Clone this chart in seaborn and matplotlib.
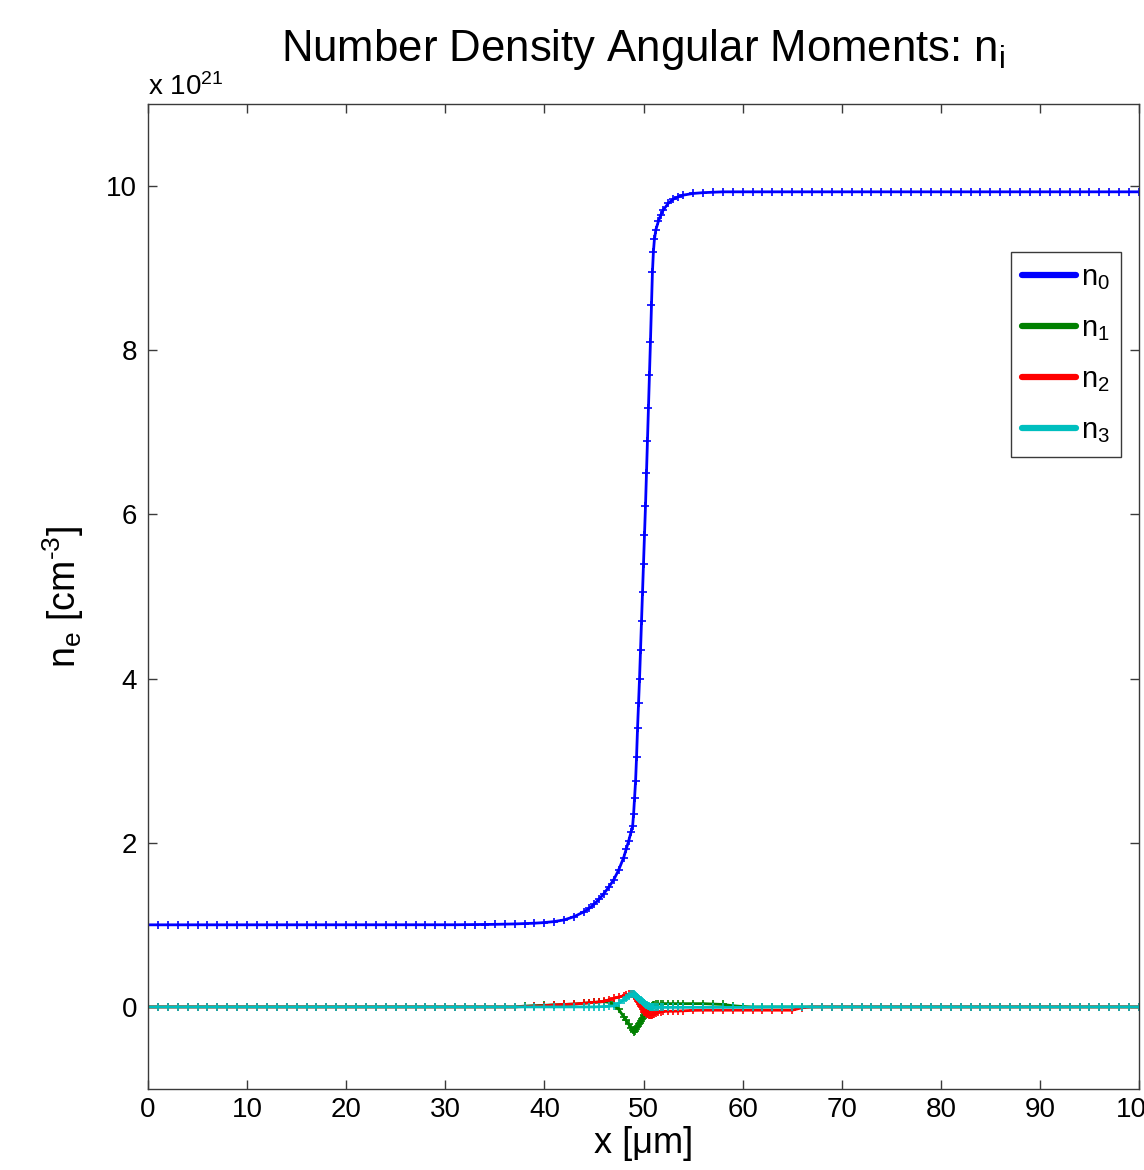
import numpy as np
import pandas as pd
import matplotlib
matplotlib.use("Agg")
import matplotlib.pyplot as plt
import seaborn as sns
from matplotlib.lines import Line2D

# ---------------- data (densities in units of 1e21 cm^-3) ----------------
x_um = [0, 1, 2, 3, 4, 5, 6, 7, 8, 9,
        10, 11, 12, 13, 14, 15, 16, 17, 18, 19,
        20, 21, 22, 23, 24, 25, 26, 27, 28, 29,
        30, 31, 32, 33, 34, 35, 36, 37, 38,
        39, 40, 41, 42, 43, 44,
        44.5, 45, 45.5, 46, 46.5, 47, 47.5, 48,
        48.25, 48.5, 48.75,
        48.9, 49.0, 49.1, 49.2, 49.3, 49.4, 49.5, 49.6, 49.7, 49.8, 49.9, 50.0,
        50.1, 50.2, 50.3, 50.4, 50.5, 50.6, 50.7, 50.8, 50.9, 51.0, 51.1,
        51.25, 51.5, 51.75, 52,
        52.5, 53, 53.5, 54,
        55, 56, 57, 58, 59, 60, 61, 62, 63, 64,
        65, 66, 67, 68, 69, 70, 71, 72, 73, 74,
        75, 76, 77, 78, 79, 80, 81, 82, 83, 84,
        85, 86, 87, 88, 89, 90, 91, 92, 93, 94,
        95, 96, 97, 98, 99, 100]

n0 = [1.0, 1.0, 1.0, 1.0, 1.0, 1.0, 1.0, 1.0, 1.0, 1.0,
      1.0, 1.0, 1.0, 1.0, 1.0, 1.0, 1.0, 1.0, 1.0, 1.0,
      1.0, 1.0, 1.0, 1.0, 1.0, 1.0, 1.0, 1.0, 1.0, 1.0,
      1.0, 1.001, 1.002, 1.003, 1.004, 1.006, 1.008, 1.011, 1.015,
      1.02, 1.028, 1.04, 1.06, 1.10, 1.16,
      1.20, 1.25, 1.31, 1.38, 1.46, 1.55, 1.67, 1.82,
      1.92, 2.02, 2.13,
      2.20, 2.35, 2.55, 2.75, 3.05, 3.40, 3.70, 4.00, 4.35, 4.70, 5.05, 5.40,
      5.75, 6.10, 6.50, 6.90, 7.30, 7.70, 8.10, 8.55, 8.95, 9.20, 9.35,
      9.47, 9.57, 9.65, 9.71,
      9.79, 9.84, 9.87, 9.89,
      9.91, 9.92, 9.925, 9.93, 9.93, 9.93, 9.93, 9.93, 9.93, 9.93,
      9.93, 9.93, 9.93, 9.93, 9.93, 9.93, 9.93, 9.93, 9.93, 9.93,
      9.93, 9.93, 9.93, 9.93, 9.93, 9.93, 9.93, 9.93, 9.93, 9.93,
      9.93, 9.93, 9.93, 9.93, 9.93, 9.93, 9.93, 9.93, 9.93, 9.93,
      9.93, 9.93, 9.93, 9.93, 9.93, 9.93]

n1 = [0, 0, 0, 0, 0, 0, 0, 0, 0, 0,
      0, 0, 0, 0, 0, 0, 0, 0, 0, 0,
      0, 0, 0, 0, 0, 0, 0, 0, 0, 0,
      0, 0, 0, 0, 0, 0, 0, 0, 0.01,
      0.015, 0.02, 0.025, 0.03, 0.035, 0.045,
      0.05, 0.055, 0.06, 0.065, 0.055, 0.03, -0.03, -0.12,
      -0.165, -0.21, -0.255,
      -0.285, -0.31, -0.29, -0.27, -0.25, -0.23, -0.21, -0.19, -0.17, -0.15, -0.13, -0.11,
      -0.095, -0.08, -0.065, -0.05, -0.035, -0.02, -0.005, 0.005, 0.015, 0.02, 0.025,
      0.03, 0.035, 0.035, 0.04,
      0.04, 0.04, 0.04, 0.04,
      0.04, 0.04, 0.035, 0.03, 0.015, 0.005, 0, 0, 0, 0,
      0, 0, 0, 0, 0, 0, 0, 0, 0, 0,
      0, 0, 0, 0, 0, 0, 0, 0, 0, 0,
      0, 0, 0, 0, 0, 0, 0, 0, 0, 0,
      0, 0, 0, 0, 0, 0]

n2 = [0, 0, 0, 0, 0, 0, 0, 0, 0, 0,
      0, 0, 0, 0, 0, 0, 0, 0, 0, 0,
      0, 0, 0, 0, 0, 0, 0, 0, 0, 0,
      0, 0, 0, 0, 0, 0, 0, 0, 0.005,
      0.01, 0.015, 0.025, 0.03, 0.035, 0.045,
      0.05, 0.055, 0.06, 0.07, 0.085, 0.105, 0.12, 0.135,
      0.145, 0.152, 0.158,
      0.16, 0.15, 0.133, 0.115, 0.095, 0.075, 0.055, 0.035, 0.015, -0.005, -0.025, -0.042,
      -0.057, -0.068, -0.078, -0.085, -0.09, -0.093, -0.095, -0.095, -0.093, -0.09, -0.085,
      -0.075, -0.065, -0.058, -0.055,
      -0.053, -0.053, -0.05, -0.047,
      -0.042, -0.04, -0.04, -0.04, -0.04, -0.04, -0.04, -0.04, -0.04, -0.04,
      -0.04, -0.01, 0, 0, 0, 0, 0, 0, 0, 0,
      0, 0, 0, 0, 0, 0, 0, 0, 0, 0,
      0, 0, 0, 0, 0, 0, 0, 0, 0, 0,
      0, 0, 0, 0, 0, 0]

n3 = [0, 0, 0, 0, 0, 0, 0, 0, 0, 0,
      0, 0, 0, 0, 0, 0, 0, 0, 0, 0,
      0, 0, 0, 0, 0, 0, 0, 0, 0, 0,
      0, 0, 0, 0, 0, 0, 0, 0, 0,
      0, 0, 0, 0, 0, 0,
      0, 0, 0.002, 0.005, 0.008, 0.012, 0.045, 0.085,
      0.107, 0.13, 0.152,
      0.16, 0.153, 0.143, 0.133, 0.122, 0.111, 0.1, 0.09, 0.08, 0.07, 0.06, 0.05,
      0.042, 0.034, 0.027, 0.02, 0.014, 0.008, 0.003, 0.0, -0.002, -0.004, -0.005,
      -0.006, -0.006, -0.006, -0.006,
      -0.006, -0.006, -0.006, -0.006,
      -0.005, -0.005, -0.005, -0.005, -0.005, -0.005, -0.003, -0.002, 0, 0,
      0, 0, 0, 0, 0, 0, 0, 0, 0, 0,
      0, 0, 0, 0, 0, 0, 0, 0, 0, 0,
      0, 0, 0, 0, 0, 0, 0, 0, 0, 0,
      0, 0, 0, 0, 0, 0]

labels = ["n0", "n1", "n2", "n3"]
legend_labels = [r"n$_0$", r"n$_1$", r"n$_2$", r"n$_3$"]
colors = ["#0000FF", "#008000", "#FF0000", "#00BFBF"]

x_ticks = [0, 10, 20, 30, 40, 50, 60, 70, 80, 90, 100]
y_ticks = [0, 2, 4, 6, 8, 10]

# ---------------- build long-form table ----------------
frames = []
for lab, vals in zip(labels, [n0, n1, n2, n3]):
    frames.append(pd.DataFrame({"x": x_um, "n": vals, "moment": lab}))
df = pd.concat(frames, ignore_index=True)

# ---------------- style ----------------
sns.set_theme(style="ticks")
plt.rcParams["font.family"] = ["Liberation Sans", "DejaVu Sans"]
plt.rcParams["mathtext.fontset"] = "custom"
plt.rcParams["mathtext.rm"] = "Liberation Sans"
plt.rcParams["mathtext.it"] = "Liberation Sans"
plt.rcParams["mathtext.default"] = "regular"
plt.rcParams["text.color"] = "black"
plt.rcParams["axes.labelcolor"] = "black"
plt.rcParams["axes.titlecolor"] = "black"

edge = "#3a3a3a"

fig = plt.figure(figsize=(11.44, 11.70), dpi=100)
ax = fig.add_axes([148 / 1144, 81 / 1170, 991 / 1144, 985 / 1170])

sns.lineplot(data=df, x="x", y="n", hue="moment", palette=dict(zip(labels, colors)),
             estimator=None, sort=False, legend=False, ax=ax,
             marker="+", markersize=6, markeredgewidth=1.2, linewidth=2.0)
for ln in ax.lines:
    ln.set_markeredgecolor(ln.get_color())
    ln.set_markerfacecolor(ln.get_color())

ax.set_xlim(0, 100)
ax.set_ylim(-1, 11)
ax.set_xticks(x_ticks)
ax.set_yticks(y_ticks)
ax.tick_params(axis="both", which="major", direction="in", length=6.5, width=1.0,
               color=edge, labelsize=20, labelcolor="black",
               top=True, right=True)
ax.tick_params(axis="x", pad=6)
ax.tick_params(axis="y", pad=8)
for s in ax.spines.values():
    s.set_color(edge)
    s.set_linewidth(1.0)
    s.set_visible(True)

ax.set_xlabel(r"x [μm]", fontsize=26, labelpad=2)
ax.set_ylabel(r"n$_e$ [cm$^{\text{-3}}$]", fontsize=27, labelpad=14)
ax.set_title(r"Number Density Angular Moments: n$_i$", fontsize=31.5, pad=31)
ax.text(0.0, 1.009, r"x 10$^{21}$", transform=ax.transAxes, ha="left",
        va="baseline", fontsize=20)

handles = [Line2D([0], [0], color=c, lw=4.5, solid_capstyle="round") for c in colors]
leg = ax.legend(handles, legend_labels, loc="upper right",
                bbox_to_anchor=(0.982, 0.850), fontsize=21, frameon=True,
                fancybox=False, edgecolor=edge, framealpha=1,
                handlelength=1.85, handletextpad=0.15, labelspacing=0.76,
                borderpad=0.4, borderaxespad=0.0)
leg.get_frame().set_linewidth(1.0)

fig.savefig("out.png", dpi=100, facecolor="white")
